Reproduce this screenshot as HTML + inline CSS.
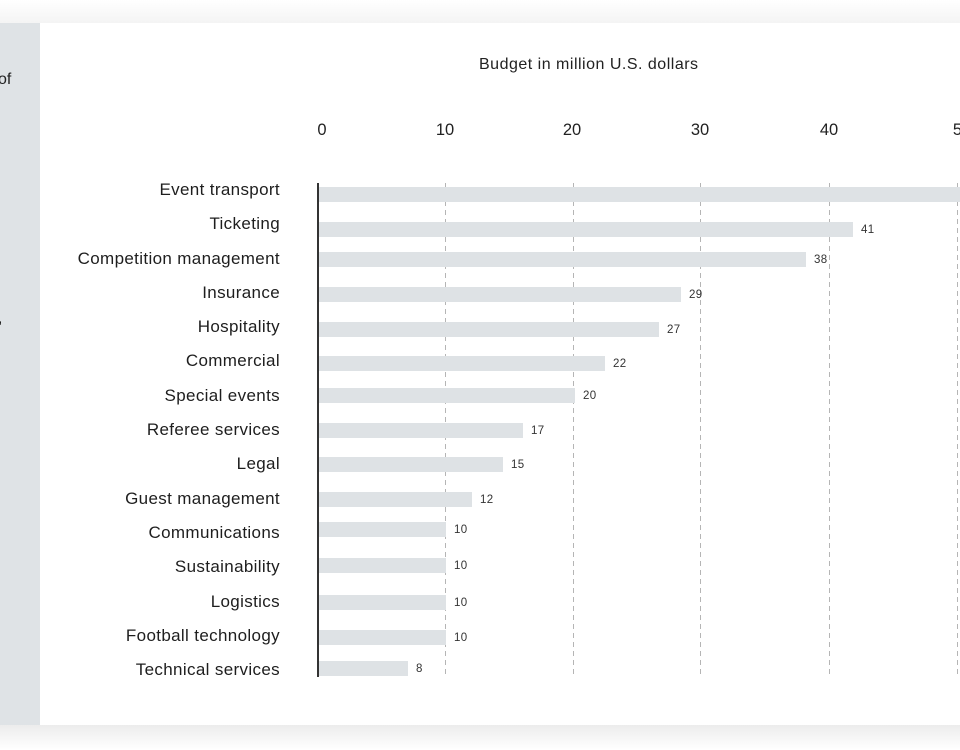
<!DOCTYPE html>
<html><head><style>
body{margin:0;width:960px;height:750px;overflow:hidden;background:#fff;font-family:"Liberation Sans",sans-serif;position:relative}
.panel{position:absolute;left:0;top:23px;width:40px;height:702px;background:#dfe3e6}
.card{position:absolute;left:40px;top:23px;width:920px;height:702px;background:#fff}
.topsh{position:absolute;left:0;top:0;width:960px;height:23px;background:linear-gradient(#fff,#f4f4f4)}
.shadow{position:absolute;left:0;top:725px;width:960px;height:25px;background:linear-gradient(#ececec,#fff)}
.t{position:absolute;color:#222;white-space:nowrap}
.lab{position:absolute;right:680px;font-size:17px;letter-spacing:0.35px;color:#1e1e1e;transform:translateY(-50%);white-space:nowrap}
.bar{position:absolute;left:318px;height:15px;background:#dee2e5}
.val{position:absolute;font-size:11.5px;letter-spacing:0.3px;color:#333;transform:translateY(-50%)}
.grid{position:absolute;top:183px;height:494px;width:1px;background:repeating-linear-gradient(#b5b5b5 0 5px,transparent 5px 9px)}
.tick{position:absolute;top:121px;font-size:16.5px;color:#222;transform:translateX(-50%)}
</style></head><body>
<div class="topsh"></div>
<div class="panel"></div><div class="card"></div><div class="shadow"></div>
<div class="t" style="left:-2px;top:71px;font-size:16px">of</div>
<div class="t" style="left:-2px;top:310px;font-size:16px">,</div>
<div class="t" style="left:479px;top:56px;font-size:16px;letter-spacing:0.5px">Budget in million U.S. dollars</div>
<div class="tick" style="left:322px">0</div><div class="tick" style="left:445px">10</div><div class="tick" style="left:572px">20</div><div class="tick" style="left:700px">30</div><div class="tick" style="left:829px">40</div><div class="tick" style="left:962px">50</div>
<div class="grid" style="left:445px"></div><div class="grid" style="left:573px"></div><div class="grid" style="left:700px"></div><div class="grid" style="left:829px"></div><div class="grid" style="left:957px"></div>
<div id="rows"></div>
<div style="position:absolute;left:317px;top:183px;width:1.5px;height:494px;background:#333"></div>
<script>
var d=[["Event transport",190,194,960,""],["Ticketing",224,229,853,"41"],["Competition management",259,259,806,"38"],["Insurance",293,294,681,"29"],["Hospitality",327,329,659,"27"],["Commercial",361,363,605,"22"],["Special events",396,395,575,"20"],["Referee services",430,430,523,"17"],["Legal",464,464,503,"15"],["Guest management",499,499,472,"12"],["Communications",533,529,446,"10"],["Sustainability",567,565,446,"10"],["Logistics",602,602,446,"10"],["Football technology",636,637,446,"10"],["Technical services",670,668,408,"8"]];
var h="";d.forEach(function(r){h+='<div class="lab" style="top:'+r[1]+'px">'+r[0]+'</div><div class="bar" style="top:'+(r[2]-7.5)+'px;width:'+(r[3]-318)+'px"></div>';if(r[4])h+='<div class="val" style="top:'+(r[2]+1)+'px;left:'+(r[3]+8)+'px">'+r[4]+'</div>';});
document.getElementById("rows").innerHTML=h;
</script>
</body></html>
